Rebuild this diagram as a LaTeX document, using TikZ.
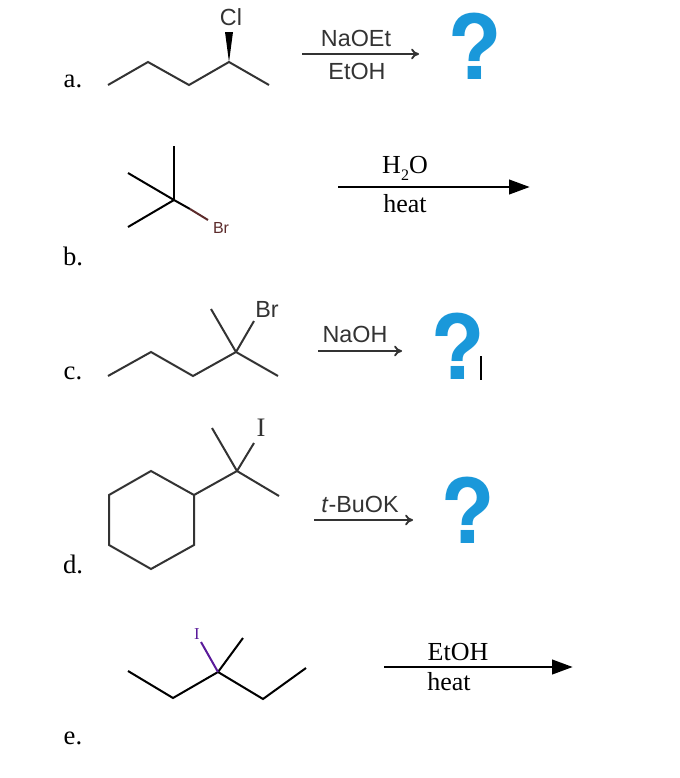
\documentclass[tikz,border=0pt]{standalone}
\usepackage{fontspec}
\usepackage{xcolor}
\setmainfont{Liberation Serif}
\setsansfont{Liberation Sans}
\newfontfamily\quizfont{TeX Gyre Heros}
\usetikzlibrary{arrows.meta,decorations.markings}
\definecolor{quizblue}{HTML}{1A98DA}
\definecolor{bondgray}{HTML}{333333}
\definecolor{brbrown}{HTML}{5C2B2B}
\definecolor{ipurple}{HTML}{5A1A9A}
\tikzstyle {item label} = [inner sep=0pt, font=\fontsize{20}{20}\selectfont]
\tikzstyle {sans label} = [inner sep=0pt, text=bondgray, font=\sffamily\fontsize{17.5}{17.5}\selectfont]
\tikzstyle {serif label} = [inner sep=0pt, font=\fontsize{19.5}{19.5}\selectfont]
\tikzstyle {quiz mark} = [inner sep=0pt, text=quizblue, font=\quizfont\bfseries\fontsize{67}{67}\selectfont]
\tikzstyle {gray bond} = [bondgray, line width=1.5pt, line join=miter]
\tikzstyle {black bond} = [black, line width=1.5pt, line join=miter]
\tikzset{thin arrow/.style = {bondgray, line width=1.4pt, decoration={markings,mark=at position 1 with %
            {\arrow[xshift=0.8pt,>={To[length=6pt,width=8pt]}]{>}}},postaction={decorate}}}
\tikzset{solid arrow/.style = {black, line width=1.6pt, decoration={markings,mark=at position 1 with %
            {\arrow[xshift=2pt,>={Triangle[length=15.5pt,width=11pt]}]{>}}},postaction={decorate}}}

\begin{document}
\begin{tikzpicture}[x=0.75pt,y=-0.75pt]
            \useasboundingbox (0,0) rectangle (680,778);
            % item letters
            \node[item label] (la) at (73,81) {a.};
            \node[item label] (lb) at (73,256) {b.};
            \node[item label] (lc) at (73,373) {c.};
            \node[item label] (ld) at (73,564) {d.};
            \node[item label] (le) at (73,738) {e.};

            % a
            \coordinate (a1) at (108,85);
            \coordinate (a2) at (148,62);
            \coordinate (a3) at (189,85);
            \coordinate (a4) at (229,62);
            \coordinate (a5) at (269,85);
            \coordinate (aw1) at (225,32);
            \coordinate (aw2) at (233,32);
            \node[sans label] (acl) at (231,17) {Cl};
            \draw[gray bond] (a1) -- (a2) -- (a3) -- (a4) -- (a5);
            \fill[black] (a4) -- (aw1) -- (aw2) -- cycle;
            \coordinate (ar1) at (302,54);
            \coordinate (ar2) at (418,54);
            \draw[thin arrow] (ar1) -- (ar2);
            \node[sans label] (anaoet) at (356,38) {NaOEt};
            \node[sans label] (aetoh) at (357,71) {EtOH};
            \node[quiz mark] (aq) at (475,46) {?};

            % b
            \coordinate (b0) at (174,200);
            \coordinate (b1) at (174,146);
            \coordinate (b2) at (128,173);
            \coordinate (b3) at (128,227);
            \coordinate (b4) at (190,209);
            \coordinate (b5) at (208,220);
            \node[inner sep=0pt, text=brbrown, font=\sffamily\fontsize{12}{12}\selectfont] (bbr) at (221,228) {Br};
            \draw[black bond] (b0) -- (b1);
            \draw[black bond] (b0) -- (b2);
            \draw[black bond] (b0) -- (b3);
            \draw[black bond] (b0) -- (b4);
            \draw[brbrown, line width=1.5pt] (b4) -- (b5);
            \coordinate (br1) at (338,187);
            \coordinate (br2) at (527,187);
            \draw[solid arrow] (br1) -- (br2);
            \node[serif label] (bwater) at (405,168) {H\raisebox{-.6ex}{\fontsize{12}{12}\selectfont 2}O};
            \node[serif label] (bheat) at (405,204) {heat};

            % c
            \coordinate (c1) at (108,376);
            \coordinate (c2) at (151,352);
            \coordinate (c3) at (193,376);
            \coordinate (c4) at (236,352);
            \coordinate (c5) at (278,376);
            \coordinate (c6) at (211,309);
            \coordinate (c7) at (254,321);
            \node[sans label] (cbr) at (267,309) {Br};
            \draw[gray bond] (c1) -- (c2) -- (c3) -- (c4) -- (c5);
            \draw[gray bond] (c4) -- (c6);
            \draw[gray bond] (c4) -- (c7);
            \coordinate (cr1) at (318,351);
            \coordinate (cr2) at (401,351);
            \draw[thin arrow] (cr1) -- (cr2);
            \node[sans label] (cnaoh) at (355,334) {NaOH};
            \node[quiz mark] (cq) at (458,346) {?};
            \coordinate (cc1) at (481,356);
            \coordinate (cc2) at (481,380);
            \draw[black, line width=1pt] (cc1) -- (cc2);

            % d
            \coordinate (d1) at (109,495);
            \coordinate (d2) at (151,471);
            \coordinate (d3) at (194,495);
            \coordinate (d4) at (194,545);
            \coordinate (d5) at (151,569);
            \coordinate (d6) at (109,545);
            \coordinate (d7) at (237,471);
            \coordinate (d8) at (212,428);
            \coordinate (d9) at (254,443);
            \coordinate (d10) at (279,496);
            \node[inner sep=0pt, text=bondgray, font=\fontsize{20}{20}\selectfont] (di) at (261,428) {I};
            \draw[gray bond] (d1) -- (d2) -- (d3) -- (d4) -- (d5) -- (d6) -- cycle;
            \draw[gray bond] (d3) -- (d7);
            \draw[gray bond] (d7) -- (d8);
            \draw[gray bond] (d7) -- (d9);
            \draw[gray bond] (d7) -- (d10);
            \coordinate (dr1) at (314,520);
            \coordinate (dr2) at (412,520);
            \draw[thin arrow] (dr1) -- (dr2);
            \node[sans label] (dbase) at (360,504) {\textit{t}-BuOK};
            \node[quiz mark] (dq) at (468,510) {?};

            % e
            \coordinate (e1) at (128,671);
            \coordinate (e2) at (173,698);
            \coordinate (e3) at (218,672);
            \coordinate (e4) at (263,699);
            \coordinate (e5) at (306,668);
            \coordinate (e6) at (243,638);
            \coordinate (e7) at (201,642);
            \node[inner sep=0pt, text=ipurple, font=\fontsize{12.5}{12.5}\selectfont] (ei) at (197,634) {I};
            \draw[black bond] (e1) -- (e2) -- (e3) -- (e4) -- (e5);
            \draw[black bond] (e3) -- (e6);
            \draw[ipurple, line width=1.5pt] (e3) -- (e7);
            \coordinate (er1) at (384,667);
            \coordinate (er2) at (570,667);
            \draw[solid arrow] (er1) -- (er2);
            \node[serif label] (eetoh) at (458,652) {EtOH};
            \node[serif label] (eheat) at (449,682) {heat};
        \end{tikzpicture}
\end{document}
